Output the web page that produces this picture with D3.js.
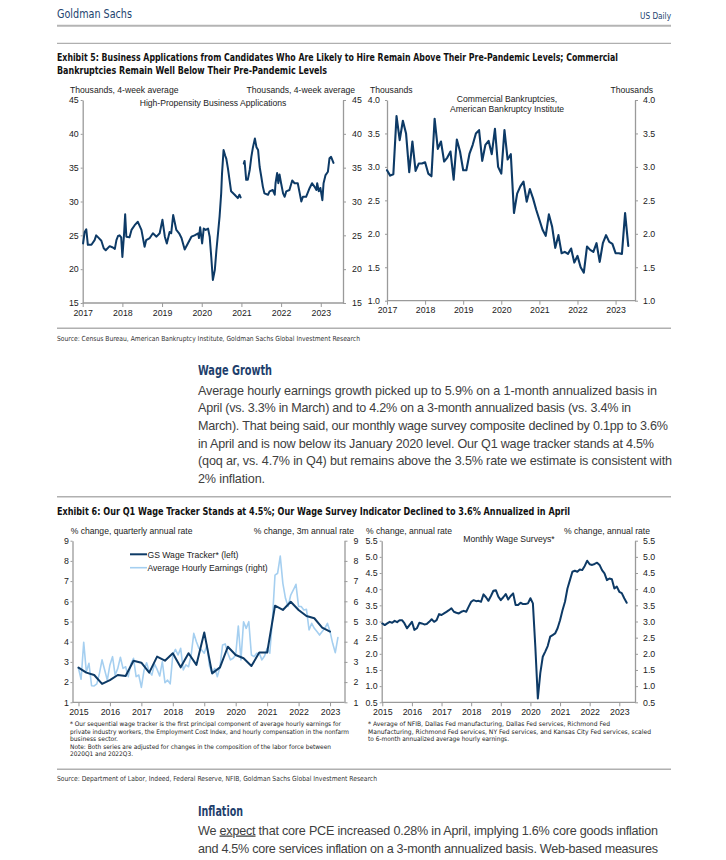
<!DOCTYPE html>
<html><head><meta charset="utf-8">
<script src="https://cdn.jsdelivr.net/npm/d3@7/dist/d3.min.js"></script>
<style>
html,body{margin:0;padding:0;background:#fff;}
svg{display:block;}
</style></head>
<body>
<script>
// ---------------- DATA ----------------
// Exhibit 5 left: High-propensity business applications (thousands, 4wk avg)
const bizYears1 = [2017.01,2017.05,2017.09,2017.13,2017.22,2017.30,2017.34,2017.39,2017.47,2017.53,2017.58,2017.68,2017.76,2017.81,2017.85,2017.89,2017.93,2017.97,2018.00,2018.04,2018.07,2018.10,2018.18,2018.23,2018.31,2018.39,2018.48,2018.56,2018.60,2018.69,2018.77,2018.86,2018.94,2019.01,2019.07,2019.12,2019.19,2019.23,2019.28,2019.36,2019.43,2019.49,2019.57,2019.65,2019.74,2019.82,2019.91,2019.93,2019.96,2020.01,2020.05,2020.10,2020.16,2020.20,2020.24,2020.28,2020.33,2020.37,2020.41,2020.45,2020.49,2020.51,2020.55,2020.59,2020.62,2020.66,2020.70,2020.74,2020.83,2020.91,2020.95,2020.98];
const bizValues1 = [23.8,25.5,25.9,23.6,23.6,24.3,25.0,24.7,24.2,23.1,22.8,23.4,23.2,23.0,24.3,24.9,25.0,24.7,21.8,25.0,28.1,24.8,24.7,25.8,26.5,27.0,25.8,23.3,24.3,24.6,25.3,24.8,25.3,27.3,24.8,23.8,25.5,25.3,28.0,25.8,25.3,24.6,22.9,23.8,24.8,25.0,25.3,24.6,26.2,23.8,26.0,25.8,26.0,24.8,21.8,18.4,19.9,22.8,25.3,27.8,31.2,34.0,37.6,36.8,36.3,34.9,33.2,31.5,31.0,30.5,31.0,30.6];
const bizYears2 = [2021.06,2021.08,2021.12,2021.16,2021.21,2021.25,2021.29,2021.34,2021.38,2021.42,2021.46,2021.50,2021.54,2021.58,2021.67,2021.71,2021.79,2021.84,2021.86,2021.90,2021.93,2021.96,2022.00,2022.05,2022.09,2022.13,2022.21,2022.28,2022.34,2022.42,2022.47,2022.51,2022.55,2022.63,2022.72,2022.78,2022.84,2022.89,2022.91,2022.95,2022.99,2023.04,2023.07,2023.12,2023.18,2023.22,2023.26,2023.32];
const bizValues2 = [35.6,36.0,33.2,33.2,34.7,36.6,38.0,39.3,38.0,37.6,35.1,33.7,32.2,31.2,31.0,31.5,31.7,31.0,32.7,34.2,32.7,34.0,32.7,31.2,30.7,31.5,31.7,33.1,32.7,32.7,31.2,30.0,30.7,30.7,32.0,32.7,32.2,31.7,32.7,31.5,32.0,30.2,32.7,33.9,34.4,36.4,36.6,35.7];

// Exhibit 5 right: Commercial bankruptcies, monthly from Jan 2017 (thousands)
const bankStart = 2017;
const bankValues = [2.95,2.87,2.89,3.76,3.40,3.69,3.50,2.92,3.38,2.94,3.05,3.05,
  3.07,2.90,2.86,3.72,3.27,3.38,3.08,3.14,3.23,2.81,3.41,3.23,
  2.95,2.95,3.20,3.33,3.50,3.55,3.09,3.33,3.39,3.19,3.57,3.00,
  2.90,3.55,3.11,3.19,2.31,2.60,2.71,2.78,2.48,2.67,2.53,2.36,
  2.21,2.06,1.97,2.29,2.11,1.79,1.98,1.71,1.73,1.70,1.78,1.57,
  1.67,1.50,1.42,1.81,1.76,1.73,1.86,1.58,1.86,1.98,1.88,1.85,
  1.71,1.71,1.70,2.31,1.82];

// Exhibit 6 left: GS wage tracker (quarterly from 2015Q1) and AHE (monthly from Jan 2015)
const trackerStart = 2015;
const trackerValues = [2.72,2.47,2.35,1.91,2.10,2.35,2.30,3.06,2.96,2.47,3.26,3.06,3.43,2.73,3.43,2.85,4.46,2.43,2.73,3.75,3.34,3.18,2.80,3.46,3.46,5.78,5.57,5.98,5.57,5.27,5.16,4.70,4.50];
const aheStart = 2015;
const aheValues = [2.68,2.14,3.97,2.51,2.93,1.82,1.81,1.91,2.43,3.10,2.60,2.10,
  2.85,3.26,2.35,2.68,3.23,2.68,2.76,2.27,2.90,3.18,2.27,2.35,
  1.74,2.57,2.96,2.51,2.35,2.90,2.63,2.30,3.01,1.97,2.10,1.91,
  3.34,3.62,3.34,3.67,2.60,2.85,2.76,3.34,4.41,4.00,3.67,3.59,
  3.43,3.84,2.80,2.43,2.68,2.27,2.76,3.84,3.89,3.43,3.10,3.18,
  3.34,4.78,3.10,4.99,4.66,4.99,3.34,3.26,3.43,3.43,3.10,3.29,
  3.67,3.43,5.07,7.30,7.39,8.24,6.89,6.15,5.74,6.31,6.56,6.84,
  5.74,5.74,5.57,5.60,4.58,4.91,4.66,4.50,4.33,4.50,4.66,4.91,
  4.50,3.92,3.46,4.20];

// Exhibit 6 right: Monthly wage surveys (monthly from Jan 2015)
const surveyStart = 2015;
const surveyValues = [2.94,2.89,2.94,2.99,2.96,3.02,2.98,3.04,3.04,2.94,2.79,2.89,
  2.99,2.74,2.79,2.96,2.94,2.91,2.92,2.99,3.07,2.99,3.04,3.23,
  3.20,3.25,3.30,3.35,3.41,3.30,3.27,3.25,3.30,3.33,3.30,3.46,
  3.61,3.66,3.63,3.64,3.61,3.84,3.75,3.64,3.79,3.95,3.97,3.77,
  3.66,3.75,3.85,3.68,3.79,3.87,3.51,3.51,3.58,3.54,3.54,3.56,
  3.72,3.56,2.20,0.62,1.40,1.91,2.07,2.24,2.53,2.58,2.63,2.79,
  3.04,3.35,3.61,4.02,4.28,4.54,4.57,4.54,4.61,4.59,4.72,4.88,
  4.77,4.75,4.78,4.82,4.75,4.59,4.49,4.28,4.33,4.31,4.02,4.08,
  3.92,3.88,3.72,3.58];

// Tick labels
const yTicksBiz = [15,20,25,30,35,40,45];
const yTicksBank = [1.0,1.5,2.0,2.5,3.0,3.5,4.0];
const yTicksWage = [1,2,3,4,5,6,7,8,9];
const yTicksSurvey = [0.5,1.0,1.5,2.0,2.5,3.0,3.5,4.0,4.5,5.0,5.5];
const xYears5 = [2017,2018,2019,2020,2021,2022,2023];
const xYears6 = [2015,2016,2017,2018,2019,2020,2021,2022,2023];

// ---------------- DRAW ----------------
const NAVY = "#0d3a66", LIGHT = "#a5cff0", AXIS = "#9a9a9a", TXT = "#222";
const SANS = "'Liberation Sans', Arial, Helvetica, sans-serif";
const NARROW = "'Liberation Sans Narrow', 'Arial Narrow', 'DejaVu Sans Condensed', sans-serif";

const svg = d3.select("body").append("svg").attr("width", 726).attr("height", 860);
svg.append("rect").attr("width", 726).attr("height", 860).attr("fill", "#fff");

function txt(x, y, s, o = {}) {
  const t = svg.append("text").attr("x", x).attr("y", y)
    .attr("font-family", o.family || SANS)
    .attr("font-size", o.size || 8.5)
    .attr("font-weight", o.weight || "normal")
    .attr("fill", o.fill || TXT)
    .attr("text-anchor", o.anchor || "start");
  if (o.len) t.attr("textLength", o.len).attr("lengthAdjust", o.adjust || "spacingAndGlyphs");
  if (Array.isArray(s)) {
    s.forEach(p => { const ts = t.append("tspan").text(p.t); if (p.u) ts.attr("text-decoration", "underline"); });
  } else t.text(s);
  return t;
}
function rule(y, w = 1, c = "#a8a8a8") {
  svg.append("line").attr("x1", 57).attr("x2", 671).attr("y1", y).attr("y2", y)
    .attr("stroke", c).attr("stroke-width", w);
}

// Header
txt(57, 18, "Goldman Sachs", {family: NARROW, size: 12.5, fill: "#23446f", len: 75});
txt(671, 19, "US Daily", {family: NARROW, size: 9.5, fill: "#23446f", anchor: "end", len: 31});
rule(25.7, 2, "#b4b4b4");
rule(43.3, 1, "#9c9c9c");

// Exhibit 5 title
txt(57, 60.5, "Exhibit 5: Business Applications from Candidates Who Are Likely to Hire Remain Above Their Pre-Pandemic Levels; Commercial",
  {family: NARROW, size: 10, weight: "bold", fill: "#111", len: 561});
txt(57, 73.5, "Bankruptcies Remain Well Below Their Pre-Pandemic Levels",
  {family: NARROW, size: 10, weight: "bold", fill: "#111", len: 270});

function styleAxis(g) {
  g.selectAll(".domain").attr("stroke", AXIS).attr("stroke-width", 1.3);
  g.selectAll(".tick line").attr("stroke", AXIS).attr("stroke-width", 1);
  g.selectAll(".tick text").attr("fill", TXT).attr("font-family", SANS).attr("font-size", 8.8);
  g.attr("font-family", SANS);
}

function chart(c) {
  const x = d3.scaleLinear().domain(c.xDomain).range([c.x0, c.x1]);
  const y = d3.scaleLinear().domain(c.yDomain).range([c.y1, c.y0]);
  const fmt = c.yFmt || (d => d);
  const gl = svg.append("g").attr("transform", `translate(${c.x0},0)`)
    .call(d3.axisLeft(y).tickValues(c.yTicks).tickFormat(fmt).tickSize(c.lt || 2).tickPadding(c.lp || 2).tickSizeOuter(0));
  styleAxis(gl);
  const gr = svg.append("g").attr("transform", `translate(${c.x1},0)`)
    .call(d3.axisRight(y).tickValues(c.yTicks).tickFormat(fmt).tickSize(3).tickPadding(c.rp || 5).tickSizeOuter(0));
  styleAxis(gr);
  const gb = svg.append("g").attr("transform", `translate(0,${c.y1})`)
    .call(d3.axisBottom(x).tickValues(c.xTicks).tickFormat(d3.format("d")).tickSize(4).tickPadding(2.5).tickSizeOuter(0));
  styleAxis(gb);
  gb.select(".domain").attr("d", `M${c.x0},0H${c.x1}`);
  return {x, y};
}

function drawLine(sc, xs, ys, color, width) {
  const pts = xs.map((d, i) => [d, ys[i]]);
  svg.append("path").datum(pts)
    .attr("fill", "none").attr("stroke", color).attr("stroke-width", width)
    .attr("stroke-linejoin", "round").attr("stroke-linecap", "round")
    .attr("d", d3.line().x(d => sc.x(d[0])).y(d => sc.y(d[1])));
}
const monthly = (start, vals) => vals.map((v, i) => start + i / 12);
const quarterly = (start, vals) => vals.map((v, i) => start + i / 4);

// Chart 1
const c1 = chart({x0: 82.7, x1: 343, y0: 100, y1: 303, xDomain: [2017, 2023.56], yDomain: [15, 45],
  yTicks: yTicksBiz, xTicks: xYears5, lt: 2, lp: 2, rp: 6});
drawLine(c1, bizYears1, bizValues1, NAVY, 2);
drawLine(c1, bizYears2, bizValues2, NAVY, 2);
txt(70, 92.5, "Thousands, 4-week average", {size: 8.6});
txt(355, 92.5, "Thousands, 4-week average", {size: 8.6, anchor: "end"});
txt(213, 105.5, "High-Propensity Business Applications", {size: 8.6, anchor: "middle"});

// Chart 2
const c2 = chart({x0: 387, x1: 635, y0: 100, y1: 300.7, xDomain: [2017, 2023.51], yDomain: [1, 4],
  yTicks: yTicksBank, xTicks: xYears5, yFmt: d3.format(".1f"), lt: 2, lp: 5, rp: 5});
drawLine(c2, monthly(bankStart, bankValues), bankValues, NAVY, 2.1);
txt(370, 92.5, "Thousands", {size: 8.6});
txt(653, 92.5, "Thousands", {size: 8.6, anchor: "end"});
txt(507, 102, "Commercial Bankruptcies,", {size: 8.6, anchor: "middle"});
txt(507, 111.5, "American Bankruptcy Institute", {size: 8.6, anchor: "middle"});

// Source 1 + Wage Growth
rule(328.3, 1.5, "#b0b0b0");
txt(57, 340.5, "Source: Census Bureau, American Bankruptcy Institute, Goldman Sachs Global Investment Research",
  {family: NARROW, size: 7, fill: "#333", len: 303});
txt(198, 375, "Wage Growth", {family: NARROW, size: 14, weight: "bold", fill: "#1f3f6d", len: 74});
const para1 = [
  ["Average hourly earnings growth picked up to 5.9% on a 1-month annualized basis in", 459],
  ["April (vs. 3.3% in March) and to 4.2% on a 3-month annualized basis (vs. 3.4% in", 433],
  ["March). That being said, our monthly wage survey composite declined by 0.1pp to 3.6%", 470],
  ["in April and is now below its January 2020 level. Our Q1 wage tracker stands at 4.5%", 456],
  ["(qoq ar, vs. 4.7% in Q4) but remains above the 3.5% rate we estimate is consistent with", 474],
  ["2% inflation.", 67]
];
const p1y = [394.5, 412.2, 430, 447.7, 465.4, 483];
para1.forEach((l, i) => txt(198, p1y[i], l[0], {size: 12.6, fill: "#404040", len: l[1], adjust: "spacing"}));
rule(496.7, 1.5, "#b0b0b0");

// Exhibit 6 title
txt(57, 514.5, "Exhibit 6: Our Q1 Wage Tracker Stands at 4.5%; Our Wage Survey Indicator Declined to 3.6% Annualized in April",
  {family: NARROW, size: 10, weight: "bold", fill: "#111", len: 513});

// Chart 3
const c3 = chart({x0: 72.5, x1: 344.5, y0: 540.7, y1: 702.3, xDomain: [2014.81, 2023.46], yDomain: [1, 9],
  yTicks: yTicksWage, xTicks: xYears6, lt: 2, lp: 1.5, rp: 6});
drawLine(c3, monthly(aheStart, aheValues), aheValues, LIGHT, 1.6);
drawLine(c3, quarterly(trackerStart, trackerValues), trackerValues, NAVY, 2);
txt(70.7, 534, "% change, quarterly annual rate", {size: 8.6});
txt(354, 534, "% change, 3m annual rate", {size: 8.6, anchor: "end"});
svg.append("line").attr("x1", 130).attr("x2", 147).attr("y1", 554.3).attr("y2", 554.3).attr("stroke", NAVY).attr("stroke-width", 2);
txt(147.5, 557.5, "GS Wage Tracker* (left)", {size: 8.6});
svg.append("line").attr("x1", 130).attr("x2", 147).attr("y1", 567.7).attr("y2", 567.7).attr("stroke", LIGHT).attr("stroke-width", 1.6);
txt(147.5, 571, "Average Hourly Earnings (right)", {size: 8.6});

// Chart 4
const c4 = chart({x0: 381.7, x1: 635, y0: 540.7, y1: 702.3, xDomain: [2014.98, 2023.53], yDomain: [0.5, 5.5],
  yTicks: yTicksSurvey, xTicks: xYears6, yFmt: d3.format(".1f"), lt: 2, lp: 2, rp: 5});
drawLine(c4, monthly(surveyStart, surveyValues), surveyValues, NAVY, 2);
txt(366, 534, "% change, annual rate", {size: 8.6});
txt(650, 534, "% change, annual rate", {size: 8.6, anchor: "end"});
txt(509, 542, "Monthly Wage Surveys*", {size: 8.6, anchor: "middle"});

// Footnotes
const fn3 = [
  ["* Our sequential wage tracker is the first principal component of average hourly earnings for", 271, 726],
  ["private industry workers, the Employment Cost Index, and hourly compensation in the nonfarm", 279, 733.5],
  ["business sector.", 48, 740.5],
  ["Note: Both series are adjusted for changes in the composition of the labor force between", 261, 748.5],
  ["2020Q1 and 2022Q3.", 63, 755.5]
];
fn3.forEach(l => txt(70, l[2], l[0], {family: NARROW, size: 6.3, fill: "#222", len: l[1]}));
const fn4 = [
  ["* Average of NFIB, Dallas Fed manufacturing, Dallas Fed services, Richmond Fed", 242, 726],
  ["Manufacturing, Richmond Fed services, NY Fed services, and Kansas City Fed services, scaled", 283, 733.5],
  ["to 6-month annualized average hourly earnings.", 141, 740.5]
];
fn4.forEach(l => txt(368, l[2], l[0], {family: NARROW, size: 6.3, fill: "#222", len: l[1]}));

rule(769.3, 1.5, "#b0b0b0");
txt(57, 780.5, "Source: Department of Labor, Indeed, Federal Reserve, NFIB, Goldman Sachs Global Investment Research",
  {family: NARROW, size: 7, fill: "#333", len: 320});

// Inflation
txt(198, 815.5, "Inflation", {family: NARROW, size: 14, weight: "bold", fill: "#1f3f6d", len: 45});
txt(198, 834.5, [{t: "We "}, {t: "expect", u: true}, {t: " that core PCE increased 0.28% in April, implying 1.6% core goods inflation"}],
  {size: 12.6, fill: "#404040", len: 460, adjust: "spacing"});
txt(198, 852.5, "and 4.5% core services inflation on a 3-month annualized basis. Web-based measures",
  {size: 12.6, fill: "#404040", len: 460, adjust: "spacing"});
</script>
</body></html>
